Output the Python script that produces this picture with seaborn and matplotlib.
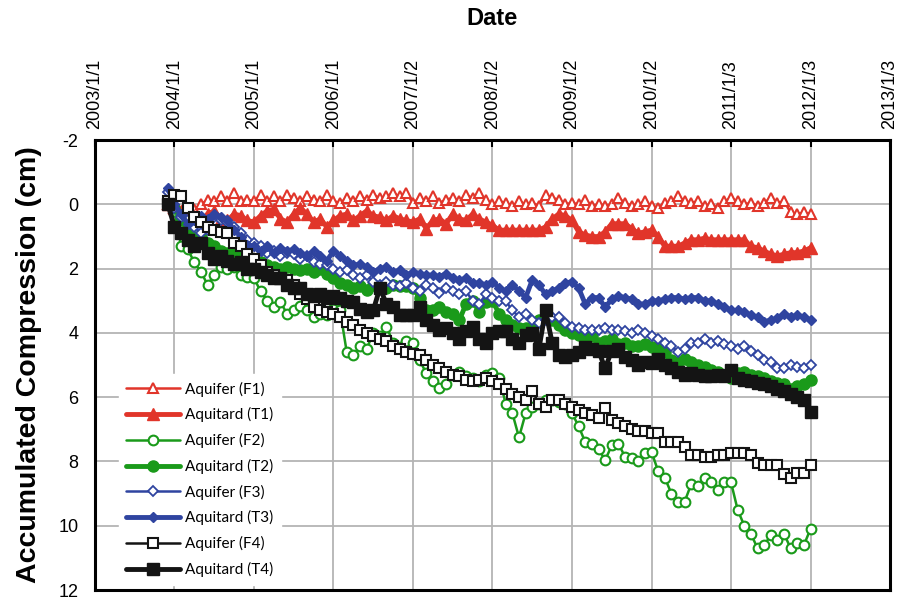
import numpy as np
import pandas as pd
import matplotlib
matplotlib.use("Agg")
import matplotlib.pyplot as plt
import seaborn as sns

# Monthly samples: 2003-12 .. 2012-01 (98 points)
dates = pd.date_range("2003-12-01", periods=98, freq="MS")

aquifer_f1 = [0.0, 0.1, 0.25, 0.3, 0.15, 0.0, -0.15, -0.1, -0.25, -0.1, -0.35, -0.1, -0.15,
              -0.1, -0.3, -0.1, -0.25, -0.1, -0.3, -0.2, -0.1, -0.25, -0.15, -0.1, -0.3,
              -0.1, -0.05, -0.2, -0.1, -0.25, -0.15, -0.3, -0.2, -0.25, -0.35, -0.25, -0.35,
              -0.05, -0.2, -0.1, -0.25, -0.05, -0.15, -0.2, -0.1, -0.3, -0.2, -0.35, -0.15,
              0.0, -0.1, -0.05, 0.05, -0.1, 0.0, -0.05, 0.05, -0.3, -0.2, -0.15, 0.0,
              -0.05, 0.0, -0.15, 0.05, 0.0, 0.05, 0.0, -0.2, -0.05, 0.05, 0.0, -0.1,
              0.05, 0.1, -0.05, -0.1, -0.25, -0.1, -0.05, -0.1, 0.05, 0.0, 0.1, -0.1,
              -0.2, -0.1, 0.0, -0.05, 0.05, -0.05, -0.2, -0.05, -0.1, 0.25, 0.3, 0.25, 0.3]
aquitard_t1 = [0.0, 0.1, 0.2, 0.25, 0.35, 0.5, 0.3, 0.2, 0.45, 0.5, 0.3, 0.35, 0.5,
               0.55, 0.35, 0.2, 0.15, 0.45, 0.55, 0.3, 0.1, 0.3, 0.55, 0.45, 0.7,
               0.5, 0.35, 0.3, 0.5, 0.35, 0.2, 0.35, 0.4, 0.5, 0.35, 0.45, 0.5,
               0.55, 0.45, 0.75, 0.5, 0.45, 0.6, 0.3, 0.45, 0.5, 0.3, 0.45, 0.55,
               0.65, 0.8, 0.8, 0.8, 0.8, 0.8, 0.8, 0.8, 0.7, 0.45, 0.3, 0.35,
               0.5, 0.85, 0.95, 1.0, 1.0, 0.85, 0.6, 0.6, 0.6, 0.75, 0.9, 0.85,
               0.8, 1.0, 1.3, 1.3, 1.3, 1.2, 1.1, 1.1, 1.05, 1.1, 1.1, 1.1,
               1.1, 1.1, 1.1, 1.3, 1.35, 1.45, 1.55, 1.6, 1.55, 1.5, 1.5, 1.45, 1.35]
aquifer_f2 = [0.0, 0.2, 1.3, 1.4, 1.8, 2.1, 2.5, 2.2, 1.95, 2.0, 1.95, 2.2, 2.25,
              2.3, 2.7, 3.0, 3.2, 3.05, 3.4, 3.3, 3.15, 3.3, 3.5, 3.4, 3.45,
              3.25, 3.3, 4.6, 4.7, 4.4, 4.5, 4.0, 4.1, 3.8, 4.3, 4.45, 4.25,
              4.3, 4.85, 5.25, 5.5, 5.7, 5.6, 5.3, 5.2, 5.35, 5.4, 5.5, 5.3,
              5.25, 5.4, 6.2, 6.5, 7.25, 6.5, 6.3, 6.2, 6.1, 6.1, 6.15, 6.2,
              6.5, 6.9, 7.4, 7.45, 7.6, 7.96, 7.5, 7.45, 7.85, 7.9, 8.0, 7.75,
              7.7, 8.3, 8.5, 9.0, 9.25, 9.25, 8.7, 8.75, 8.5, 8.65, 8.9, 8.65,
              8.65, 9.5, 10.0, 10.25, 10.7, 10.6, 10.3, 10.45, 10.25, 10.7, 10.55, 10.6, 10.1]
aquitard_t2 = [0.0, 0.1, 0.5, 0.8, 1.0, 1.0, 1.2, 1.3, 1.45, 1.5, 1.5, 1.65, 1.7,
               1.75, 1.8, 1.9, 1.95, 2.0, 1.95, 2.0, 2.05, 2.0, 2.1, 2.0, 2.15,
               2.3, 2.45, 2.5, 2.6, 2.55, 2.65, 2.5, 2.6, 2.6, 2.5, 2.55, 2.55,
               2.6, 2.9, 3.3, 3.3, 3.2, 3.35, 3.4, 3.6, 3.1, 3.0, 3.35, 3.05,
               3.0, 3.4, 3.6, 3.75, 3.85, 3.85, 3.8, 3.6, 3.5, 3.6, 3.75, 3.9,
               4.0, 4.05, 4.2, 4.1, 4.3, 4.25, 4.2, 4.35, 4.3, 4.4, 4.4, 4.35,
               4.45, 4.5, 4.6, 4.85, 4.9, 4.8, 4.9, 5.0, 5.05, 5.15, 5.2, 5.35,
               5.4, 5.25, 5.2, 5.3, 5.35, 5.4, 5.5, 5.55, 5.6, 5.75, 5.65, 5.6, 5.45]
aquifer_f3 = [-0.4, 0.1, 0.4, 0.5, 0.7, 0.9, 0.8, 0.4, 0.5, 0.55, 0.7, 0.9, 1.1,
              1.2, 1.3, 1.5, 1.45, 1.6, 1.5, 1.55, 1.7, 1.6, 1.8, 1.85, 1.9,
              2.0, 2.1, 2.05, 2.2, 2.3, 2.2, 2.4, 2.5, 2.4, 2.5, 2.55, 2.45,
              2.6, 2.7, 2.5, 2.6, 2.75, 2.6, 2.7, 2.8, 2.7, 3.0, 3.1, 2.8,
              2.9, 3.0, 3.0, 3.3, 3.5, 3.4, 3.6, 3.7, 3.6, 3.5, 3.5, 3.7,
              3.8, 3.85, 3.9, 3.9, 3.9, 3.85, 3.9, 3.9, 3.95, 4.0, 3.9, 4.0,
              4.1, 4.2, 4.3, 4.4, 4.6, 4.5, 4.3, 4.3, 4.2, 4.3, 4.25, 4.35,
              4.4, 4.5, 4.4, 4.55, 4.7, 4.85, 4.9, 5.1, 5.1, 5.0, 5.05, 5.1, 5.0]
aquitard_t3 = [-0.5, 0.0, 0.3, 0.6, 0.5, 0.35, 0.45, 0.3, 0.4, 0.5, 0.8, 1.0, 1.25,
               1.3, 1.45, 1.3, 1.5, 1.35, 1.45, 1.4, 1.5, 1.6, 1.45, 1.6, 1.75,
               1.45, 1.6, 1.75, 1.9, 1.85, 1.95, 2.1, 2.0, 1.95, 2.1, 2.05, 2.2,
               2.1, 2.15, 2.2, 2.2, 2.25, 2.15, 2.3, 2.35, 2.3, 2.45, 2.45, 2.5,
               2.4, 2.6, 2.7, 2.5, 2.7, 2.9, 2.35, 2.5, 2.8, 2.7, 2.6, 2.45,
               2.4, 2.6, 3.1, 2.9, 2.9, 3.2, 2.95, 2.85, 2.9, 2.95, 3.1, 3.1,
               3.0, 3.0, 2.95, 2.9, 2.9, 2.95, 2.9, 2.9, 3.0, 3.0, 3.1, 3.2,
               3.3, 3.3, 3.35, 3.45, 3.5, 3.65, 3.6, 3.55, 3.4, 3.5, 3.45, 3.5, 3.6]
aquifer_f4 = [-0.1, -0.3, -0.25, 0.1, 0.4, 0.55, 0.7, 0.8, 0.85, 0.9, 1.2, 1.3, 1.55,
              1.7, 1.9, 2.1, 2.2, 2.3, 2.35, 2.5, 2.8, 2.95, 3.2, 3.3, 3.35,
              3.4, 3.5, 3.65, 3.75, 3.9, 4.0, 4.1, 4.2, 4.25, 4.4, 4.5, 4.6,
              4.65, 4.7, 4.85, 5.0, 5.1, 5.2, 5.3, 5.35, 5.45, 5.5, 5.45, 5.4,
              5.5, 5.6, 5.75, 5.9, 6.0, 6.1, 5.8, 6.2, 6.3, 6.1, 6.1, 6.2,
              6.3, 6.4, 6.5, 6.55, 6.65, 6.35, 6.7, 6.8, 6.9, 7.0, 7.05, 7.05,
              7.1, 7.1, 7.4, 7.4, 7.4, 7.55, 7.8, 7.8, 7.85, 7.85, 7.8, 7.8,
              7.75, 7.75, 7.75, 7.8, 8.05, 8.1, 8.1, 8.1, 8.4, 8.5, 8.35, 8.35, 8.1]
aquitard_t4 = [0.0, 0.7, 0.9, 1.1, 1.3, 1.2, 1.5, 1.7, 1.6, 1.75, 1.85, 1.8, 2.0,
               2.0, 2.1, 2.2, 2.3, 2.3, 2.5, 2.6, 2.6, 2.8, 2.85, 2.8, 2.9,
               2.85, 2.9, 3.0, 3.05, 3.25, 3.35, 3.3, 2.6, 3.1, 3.2, 3.45, 3.45,
               3.45, 3.2, 3.6, 3.75, 3.9, 3.85, 4.0, 4.2, 3.95, 3.8, 4.2, 4.3,
               4.0, 3.95, 3.95, 4.2, 4.3, 4.05, 4.0, 4.5, 3.3, 4.3, 4.7, 4.75,
               4.7, 4.6, 4.45, 4.5, 4.55, 5.1, 4.55, 4.5, 4.75, 4.85, 5.0, 4.9,
               4.95, 4.8, 5.0, 5.1, 5.2, 5.3, 5.25, 5.3, 5.35, 5.35, 5.3, 5.35,
               5.15, 5.4, 5.45, 5.5, 5.55, 5.6, 5.65, 5.75, 5.8, 5.9, 6.0, 6.1, 6.45]

series_names = ["Aquifer (F1)", "Aquitard (T1)", "Aquifer (F2)", "Aquitard (T2)",
                "Aquifer (F3)", "Aquitard (T3)", "Aquifer (F4)", "Aquitard (T4)"]
series_values = [aquifer_f1, aquitard_t1, aquifer_f2, aquitard_t2,
                 aquifer_f3, aquitard_t3, aquifer_f4, aquitard_t4]

tick_years = list(range(2003, 2014))
tick_labels = ["2003/1/1", "2004/1/1", "2005/1/1", "2006/1/1", "2007/1/2", "2008/1/2",
               "2009/1/2", "2010/1/2", "2011/1/3", "2012/1/3", "2013/1/3"]
y_ticks = [-2, 0, 2, 4, 6, 8, 10, 12]

# decimal year
xdec = dates.year + (dates.month - 1) / 12.0

frames = []
for name, vals in zip(series_names, series_values):
    frames.append(pd.DataFrame({"year": xdec, "value": vals, "series": name}))
df = pd.concat(frames, ignore_index=True)

sns.set_style("white")
plt.rcParams["font.family"] = ["Liberation Sans", "DejaVu Sans"]
plt.rcParams["text.color"] = "black"
plt.rcParams["axes.labelcolor"] = "black"
plt.rcParams["xtick.color"] = "black"
plt.rcParams["ytick.color"] = "black"

RED = "#e1352a"
GREEN = "#1a9a1a"
BLUE = "#2f44a0"
BLACK = "#141414"

styles = {
    "Aquifer (F1)": dict(color=RED, marker="^", lw=1.8, ms=7, mfc="white", mew=1.5),
    "Aquitard (T1)": dict(color=RED, marker="^", lw=3.5, ms=8, mfc=RED, mew=1.0),
    "Aquifer (F2)": dict(color=GREEN, marker="o", lw=1.8, ms=7, mfc="white", mew=1.5),
    "Aquitard (T2)": dict(color=GREEN, marker="o", lw=3.5, ms=8, mfc=GREEN, mew=1.0),
    "Aquifer (F3)": dict(color=BLUE, marker="D", lw=1.8, ms=5, mfc="white", mew=1.3),
    "Aquitard (T3)": dict(color=BLUE, marker="D", lw=3.5, ms=5.5, mfc=BLUE, mew=1.0),
    "Aquifer (F4)": dict(color=BLACK, marker="s", lw=1.8, ms=7, mfc="white", mew=1.5),
    "Aquitard (T4)": dict(color=BLACK, marker="s", lw=3.5, ms=8, mfc=BLACK, mew=1.0),
}

fig = plt.figure(figsize=(9.08, 5.99), dpi=100)
ax = fig.add_axes([0.1046, 0.015, 0.8756, 0.751])

for name in series_names:
    st = styles[name]
    sub = df[df["series"] == name]
    sns.lineplot(data=sub, x="year", y="value", ax=ax, color=st["color"],
                 linewidth=st["lw"], marker=st["marker"], markersize=st["ms"],
                 markerfacecolor=st["mfc"], markeredgecolor=st["color"],
                 markeredgewidth=st["mew"], label=name, estimator=None, sort=False,
                 zorder=3)

ax.set_xlim(2003, 2013)
ax.set_ylim(12, -2)
ax.set_xticks(tick_years)
ax.set_xticklabels(tick_labels, rotation=90, fontsize=13)
ax.set_yticks(y_ticks)
ax.set_yticklabels([str(v) for v in y_ticks], fontsize=13)
ax.xaxis.tick_top()
ax.xaxis.set_label_position("top")
ax.tick_params(axis="x", direction="in", length=5, width=1.5, pad=8, top=True, bottom=False)
ax.tick_params(axis="y", direction="in", length=5, width=1.5, pad=12)
ax.grid(True, color="#b4b4b4", linewidth=1.3, zorder=0)
ax.set_axisbelow(True)
for sp in ax.spines.values():
    sp.set_visible(True)
    sp.set_color("black")
    sp.set_linewidth(2.2)

ax.set_xlabel("Date", fontsize=17, fontweight="bold", labelpad=24)
ax.set_ylabel("Accumulated Compression (cm)", fontsize=20.5, fontweight="bold", labelpad=12)

leg = ax.legend(loc="lower left", bbox_to_anchor=(0.02, -0.005), frameon=True,
                fancybox=False, edgecolor="white", facecolor="white", framealpha=1.0,
                handlelength=3.5, handletextpad=0.35, labelspacing=0.7,
                borderpad=0.5, prop={"family": ["Lato", "DejaVu Sans"], "size": 11})
leg.set_zorder(5)

fig.savefig("out.png", dpi=100)
